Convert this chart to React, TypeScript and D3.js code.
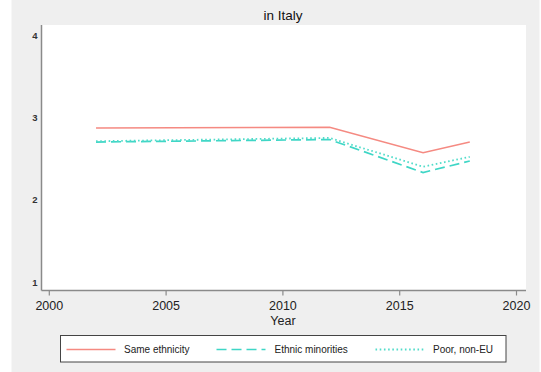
import React from "react";
import * as d3 from "d3";

const years = [2002, 2012, 2016, 2018];
const sameEthnicity = [2.87, 2.88, 2.57, 2.7];
const ethnicMinorities = [2.7, 2.73, 2.33, 2.47];
const poorNonEU = [2.71, 2.75, 2.4, 2.52];
const xTicks = [2000, 2005, 2010, 2015, 2020];
const yTicks = [1, 2, 3, 4];
const seriesNames = ["Same ethnicity", "Ethnic minorities", "Poor, non-EU"];

const W = 541;
const H = 372;
const FONT = "'Liberation Sans', Arial, Helvetica, sans-serif";

export default function App() {
  const x = d3.scaleLinear().domain([2000, 2020]).range([49.3, 516.5]);
  const y = d3.scaleLinear().domain([1, 4]).range([282, 35]);
  const line = d3
    .line<[number, number]>()
    .x((d) => x(d[0]))
    .y((d) => y(d[1]));

  const series = [
    { name: seriesNames[0], values: sameEthnicity, color: "#f58a82", dash: "none", width: 1.5 },
    { name: seriesNames[1], values: ethnicMinorities, color: "#3fd6c6", dash: "10,5", width: 1.7 },
    { name: seriesNames[2], values: poorNonEU, color: "#52dcca", dash: "1.6,2.6", width: 1.8 },
  ];

  const plot = { left: 41.5, right: 526, top: 25, bottom: 290.5 };
  const legendItems = [
    { lx: 66.5, tx: 124 },
    { lx: 216.5, tx: 274.5 },
    { lx: 375.5, tx: 433 },
  ];

  return (
    <svg
      width={W}
      height={H}
      style={{ position: "fixed", left: 0, top: 0, display: "block" }}
      fontFamily={FONT}
    >
      <rect x={0} y={0} width={W} height={H} fill="#ffffff" />
      <rect x={11.5} y={0} width={528} height={H} fill="#efefef" />
      <rect
        x={plot.left}
        y={plot.top}
        width={plot.right - plot.left}
        height={plot.bottom - plot.top}
        fill="#ffffff"
      />
      <text x={283} y={19.5} textAnchor="middle" fontSize={13.5} fill="#111">
        in Italy
      </text>

      {/* y axis */}
      <line x1={plot.left} x2={plot.left} y1={plot.top} y2={plot.bottom} stroke="#8a8a8a" strokeWidth={1.5} />
      {yTicks.map((t) => (
        <text key={t} x={37.5} y={y(t) + 3.5} textAnchor="end" fontSize={9.5} fontWeight={600} fill="#333">
          {t}
        </text>
      ))}

      {/* x axis */}
      <line x1={plot.left} x2={plot.right} y1={plot.bottom} y2={plot.bottom} stroke="#8a8a8a" strokeWidth={1.5} />
      {xTicks.map((t) => (
        <g key={t}>
          <line x1={x(t)} x2={x(t)} y1={plot.bottom} y2={plot.bottom + 5} stroke="#8a8a8a" strokeWidth={1.2} />
          <text x={x(t)} y={310} textAnchor="middle" fontSize={12.5} fill="#222">
            {t}
          </text>
        </g>
      ))}
      <text x={283} y={325} textAnchor="middle" fontSize={12.5} fill="#222">
        Year
      </text>

      {/* series */}
      {series.map((s) => (
        <path
          key={s.name}
          d={line(years.map((yr, i) => [yr, s.values[i]]) as [number, number][]) || ""}
          fill="none"
          stroke={s.color}
          strokeWidth={s.width}
          strokeDasharray={s.dash}
        />
      ))}

      {/* legend */}
      <rect x={60.5} y={335.5} width={445.5} height={26.5} fill="#ffffff" stroke="#444" strokeWidth={1} />
      {series.map((s, i) => (
        <g key={s.name}>
          <line
            x1={legendItems[i].lx}
            x2={legendItems[i].lx + 49}
            y1={349.5}
            y2={349.5}
            stroke={s.color}
            strokeWidth={s.width}
            strokeDasharray={s.dash}
          />
          <text x={legendItems[i].tx} y={353} fontSize={10} fill="#222">
            {s.name}
          </text>
        </g>
      ))}
    </svg>
  );
}
